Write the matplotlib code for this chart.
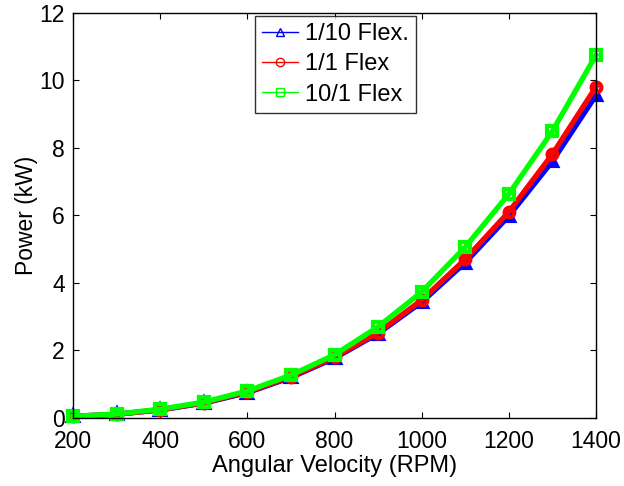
import matplotlib
matplotlib.use("Agg")
import matplotlib.pyplot as plt
from matplotlib.lines import Line2D

plt.rcParams["font.family"] = ["Liberation Sans", "DejaVu Sans"]

rpm = [200, 300, 400, 500, 600, 700, 800, 900, 1000, 1100, 1200, 1300, 1400]
power_flex_1_10 = [0.05, 0.11, 0.24, 0.44, 0.75, 1.20, 1.77, 2.50, 3.43, 4.60, 5.98, 7.60, 9.55]
power_flex_1_1 = [0.05, 0.11, 0.24, 0.45, 0.77, 1.22, 1.80, 2.53, 3.49, 4.70, 6.10, 7.81, 9.80]
power_flex_10_1 = [0.05, 0.12, 0.26, 0.47, 0.80, 1.27, 1.87, 2.70, 3.73, 5.06, 6.63, 8.49, 10.74]

series = [
    ("1/10 Flex.", power_flex_1_10, (0, 0, 1), "^"),
    ("1/1 Flex", power_flex_1_1, (1, 0, 0), "o"),
    ("10/1 Flex", power_flex_10_1, (0, 1, 0), "s"),
]

fig = plt.figure(figsize=(6.24, 4.86), dpi=100)
ax = fig.add_axes([73 / 624, 1 - 418 / 486, (596 - 73) / 624, (418 - 12.5) / 486])

handles = []
for label, vals, color, marker in series:
    ax.plot(rpm, vals, color=color, lw=3.8, marker=marker, markersize=7,
            markerfacecolor="none", markeredgewidth=3, clip_on=False)
    handles.append(Line2D([], [], color=color, lw=1, marker=marker, markersize=6,
                          markerfacecolor="none", markeredgewidth=1, label=label))

ax.set_xlim(200, 1400)
ax.set_ylim(0, 12)
ax.set_xticks(range(200, 1401, 200))
ax.set_yticks(range(0, 13, 2))
ax.tick_params(direction="in", length=4, width=0.8, labelsize=16.5,
               top=True, right=True, pad=6)
ax.tick_params(axis="x", pad=9)
for sp in ax.spines.values():
    sp.set_linewidth(1)
ax.set_xlabel("Angular Velocity (RPM)", fontsize=17, labelpad=1)
ax.set_ylabel("Power (kW)", fontsize=16.5, labelpad=1)

leg = ax.legend(handles=handles, loc="upper center", bbox_to_anchor=(0.502, 1.0),
                fontsize=17, frameon=True, fancybox=False, borderaxespad=0.15,
                handlelength=1.5, handletextpad=0.3, labelspacing=0.35,
                borderpad=0.3)
leg.get_frame().set_edgecolor("black")
leg.get_frame().set_linewidth(1)

fig.savefig("out.png", dpi=100)
